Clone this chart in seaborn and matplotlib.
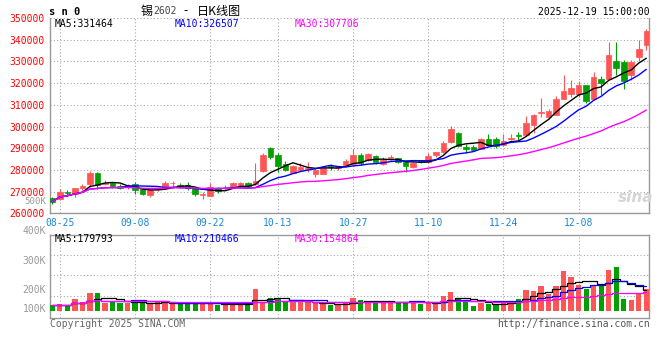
import numpy as np
import pandas as pd
import matplotlib
matplotlib.use("Agg")
import matplotlib.pyplot as plt
import seaborn as sns

# ---------------- data ----------------
tick_labels = ['08-25', '09-08', '09-22', '10-13', '10-27', '11-10', '11-24', '12-08']
price_ticks = [260000, 270000, 280000, 290000, 300000, 310000, 320000, 330000, 340000, 350000]
vol_labels = ['400K', '300K', '200K', '100K']

open_ = [267180, 266420, 269640, 268870, 271480, 273470, 278680, 273320, 273930, 272550,
         272090, 273320, 271020, 268560, 271170, 271480, 273780, 273010, 273010, 271480,
         268260, 268100, 271480, 271480, 272090, 273160, 273930, 273310, 279600, 289870,
         286800, 282510, 278680, 279910, 280370, 278070, 278070, 281900, 280670, 282210,
         282510, 286800, 284510, 286340, 282510, 285270, 285270, 283740, 281440, 284200,
         283740, 286800, 288030, 292930, 297060, 290630, 290470, 289860, 294460, 294460,
         291700, 294460, 296140, 296300, 300900, 306260, 304420, 305500, 312550, 314850,
         315150, 318990, 312550, 322050, 322050, 330020, 329720, 323590, 332020, 337380]
high = [267640, 271020, 270710, 271780, 273620, 279450, 278840, 275160, 274540, 273320,
        273320, 274540, 271480, 270860, 272240, 274850, 274850, 273930, 274540, 271780,
        269640, 273780, 272090, 272860, 274240, 274540, 274540, 282970, 287570, 290640,
        287570, 284050, 282210, 282970, 283740, 280670, 281440, 282510, 281900, 284960,
        289560, 287570, 287570, 286800, 286040, 286800, 285580, 284510, 283740, 284660,
        287570, 288340, 293240, 300300, 297520, 291850, 291390, 294770, 296450, 295230,
        296760, 296760, 297520, 304880, 305960, 313160, 308260, 314080, 323590, 321290,
        320830, 319290, 325120, 323130, 338920, 338920, 330480, 330790, 339990, 344740]
low = [264270, 266110, 268100, 267640, 270710, 272240, 271170, 273010, 271780, 271020,
       271020, 269020, 268260, 267490, 270400, 271170, 271480, 271480, 270860, 268100,
       266720, 267950, 269180, 270560, 271780, 272400, 271480, 273010, 279140, 284960,
       279140, 279450, 278370, 279450, 278830, 276840, 277910, 279910, 279910, 281290,
       281900, 282210, 284050, 282510, 282210, 284510, 282970, 279140, 280980, 282970,
       283280, 286040, 287570, 292620, 290630, 287870, 288630, 289550, 291390, 290320,
       291090, 293690, 293390, 295680, 297220, 304420, 303660, 305190, 312550, 313620,
       313620, 310860, 312090, 314390, 321750, 323590, 317150, 321590, 330020, 335080]
close = [265340, 269640, 269330, 271480, 272700, 278680, 273010, 273930, 272700, 271480,
         272400, 270560, 268870, 270560, 271480, 273930, 274080, 271940, 271780, 268720,
         268870, 272240, 270400, 271780, 273930, 273930, 271940, 274850, 286800, 286040,
         281900, 279910, 281750, 281440, 280670, 279910, 280980, 281440, 281440, 284050,
         286800, 282970, 287110, 283430, 284510, 285730, 283430, 281750, 282970, 283740,
         286340, 288030, 292170, 299000, 291090, 289860, 289400, 294150, 291700, 291090,
         293230, 294920, 295680, 301820, 305190, 306570, 307030, 312550, 316230, 317760,
         318990, 311630, 322820, 320060, 332780, 326960, 320830, 329720, 335850, 343820]
volume = [50000, 56000, 45000, 101000, 75000, 151000, 151000, 70000, 84000, 67000,
          67000, 78000, 67000, 67000, 73000, 73000, 67000, 67000, 67000, 75000,
          67000, 61000, 50000, 50000, 67000, 75000, 67000, 184000, 73000, 109000,
          109000, 84000, 73000, 73000, 73000, 67000, 61000, 50000, 50000, 73000,
          109000, 92000, 84000, 78000, 75000, 75000, 75000, 75000, 75000, 59000,
          75000, 59000, 126000, 159000, 109000, 84000, 42000, 67000, 59000, 59000,
          84000, 84000, 103000, 176000, 168000, 209000, 145000, 209000, 335000, 285000,
          221000, 187000, 209000, 229000, 346000, 371000, 101000, 92000, 151000, 184000]

# ---------------- frame ----------------
dates = pd.bdate_range('2025-08-22', '2025-12-19')
dates = dates[(dates < '2025-10-01') | (dates > '2025-10-08')]
df = pd.DataFrame({'date': dates, 'open': open_, 'high': high, 'low': low,
                   'close': close, 'volume': volume})
df['i'] = np.arange(len(df))
df['lab'] = df['date'].dt.strftime('%m-%d')
df['dir'] = np.where(df['close'] >= df['open'], 'up', 'down')
for n in (5, 10, 30):
    df[f'ma{n}'] = df['close'].rolling(n, min_periods=1).mean()
    df[f'vma{n}'] = df['volume'].rolling(n, min_periods=1).mean()
tick_pos = df.loc[df['lab'].isin(tick_labels), 'i'].tolist()

# ---------------- style ----------------
sns.set_style('white')
plt.rcParams['font.family'] = ['DejaVu Sans Mono', 'Noto Sans CJK SC']
RED = '#FF5555'
GREEN = '#00A000'
GRID = '#AAAAAA'
SPINE = '#999999'
XBLUE = '#1A88D6'
FS = 7

W, H = 660, 360
fig = plt.figure(figsize=(6.6, 3.6), dpi=100)
fig.patch.set_facecolor('white')

def fy(py):
    return 1 - py / H

ax1 = fig.add_axes([50 / W, fy(213.3), 599.3 / W, (213.3 - 18) / H])
ax2 = fig.add_axes([50 / W, fy(318), 599.3 / W, (318 - 234.7) / H])
XL = (-0.31, 79.4)

# ---------------- candles ----------------
cols = df['dir'].map({'up': RED, 'down': GREEN})
ax1.vlines(df['i'], df['low'], df['high'], colors=cols, linewidth=0.8, zorder=3)
body_lo = df[['open', 'close']].min(axis=1)
body_h = (df['close'] - df['open']).abs().clip(lower=250)
ax1.bar(df['i'], body_h, bottom=body_lo, width=0.74, color=cols,
        edgecolor=cols, linewidth=0.5, zorder=4)

sns.lineplot(data=df, x='i', y='ma5', ax=ax1, color='black', linewidth=1.0, zorder=5)
sns.lineplot(data=df, x='i', y='ma10', ax=ax1, color='#0000FF', linewidth=1.0, zorder=5)
sns.lineplot(data=df, x='i', y='ma30', ax=ax1, color='#FF00FF', linewidth=1.0, zorder=5)

ax1.set_xlim(*XL)
ax1.set_ylim(price_ticks[0], price_ticks[-1])
ax1.set_yticks(price_ticks)
ax1.set_yticklabels([str(v) for v in price_ticks])
ax1.set_xticks(tick_pos)
ax1.set_xticklabels(tick_labels)
ax1.tick_params(axis='y', length=0, pad=4, labelcolor='#FF0000', labelsize=FS)
ax1.tick_params(axis='x', length=0, pad=3.5, labelcolor=XBLUE, labelsize=FS)
ax1.grid(True, color=GRID, linestyle=(0, (1, 2)), linewidth=0.8)
ax1.set_axisbelow(True)
ax1.set_xlabel('')
ax1.set_ylabel('')
ax1.spines['top'].set_visible(False)
for s in ('left', 'right', 'bottom'):
    ax1.spines[s].set_color(SPINE)
    ax1.spines[s].set_linewidth(1.0)

# ---------------- volume ----------------
sns.barplot(data=df, x='i', y='volume', hue='dir', palette={'up': RED, 'down': GREEN},
            native_scale=True, width=0.7, dodge=False, legend=False, errorbar=None,
            saturation=1, linewidth=0, ax=ax2, zorder=3)
sns.lineplot(data=df, x='i', y='vma5', ax=ax2, color='black', linewidth=0.9,
             drawstyle='steps-mid', zorder=5)
sns.lineplot(data=df, x='i', y='vma10', ax=ax2, color='#0000FF', linewidth=0.9,
             drawstyle='steps-mid', zorder=5)
sns.lineplot(data=df, x='i', y='vma30', ax=ax2, color='#FF00FF', linewidth=0.9,
             drawstyle='steps-mid', zorder=5)
VL = (-58600, 639000)
ax2.set_xlim(*XL)
ax2.set_ylim(*VL)
ax2.set_yticks([VL[0] + f * (VL[1] - VL[0]) for f in (0.27, 0.515, 0.755)])
ax2.set_yticklabels([])
ax2.set_xticks(tick_pos)
ax2.set_xticklabels([])
ax2.tick_params(length=0)
ax2.grid(True, color=GRID, linestyle=(0, (1, 2)), linewidth=0.8)
ax2.set_axisbelow(True)
ax2.set_xlabel('')
ax2.set_ylabel('')
for s in ('left', 'right', 'bottom', 'top'):
    ax2.spines[s].set_color(SPINE)
    ax2.spines[s].set_linewidth(1.0)

# ---------------- texts ----------------
def t(x, y, s, **kw):
    kw.setdefault('fontsize', FS)
    kw.setdefault('va', 'center')
    fig.text(x / W, fy(y), s, **kw)

CJK = ['Noto Sans CJK SC', 'DejaVu Sans']
t(49, 12, 's n 0', fontweight='bold', fontsize=7.5, color='black')
t(141, 11, '锡', fontsize=8.7, color='black', family=CJK)
t(153, 11.5, '2602', fontsize=7, color='#444444')
t(186, 11, '-', ha='center', fontsize=8.7, color='black', family=CJK)
t(196.5, 11, '日K线图', fontsize=8.7, color='black', family=CJK)
t(649.5, 12, '2025-12-19 15:00:00', ha='right', color='black')

t(55, 24, 'MA5:331464', color='black')
t(175, 24, 'MA10:326507', color='#0000FF')
t(295, 24, 'MA30:307706', color='#FF00FF')
t(46, 201, '500K', ha='right', fontsize=6.6, color='#999999')

t(55, 238.7, 'MA5:179793', color='black')
t(175, 238.7, 'MA10:210466', color='#0000FF')
t(295, 238.7, 'MA30:154864', color='#FF00FF')
for lab, py in zip(vol_labels, (230.7, 261, 290, 309.3)):
    t(46, py, lab, ha='right', color='#999999')

t(50, 324, 'Copyright 2025 SINA.COM', color='#666666')
t(649.5, 324, 'http://finance.sina.com.cn', ha='right', color='#555555')
t(636, 197, 'sina', ha='center', fontsize=11, fontweight='bold', style='italic',
  color='#D5D5D5', family=['DejaVu Sans'])

fig.savefig('out.png', dpi=100, facecolor='white')
